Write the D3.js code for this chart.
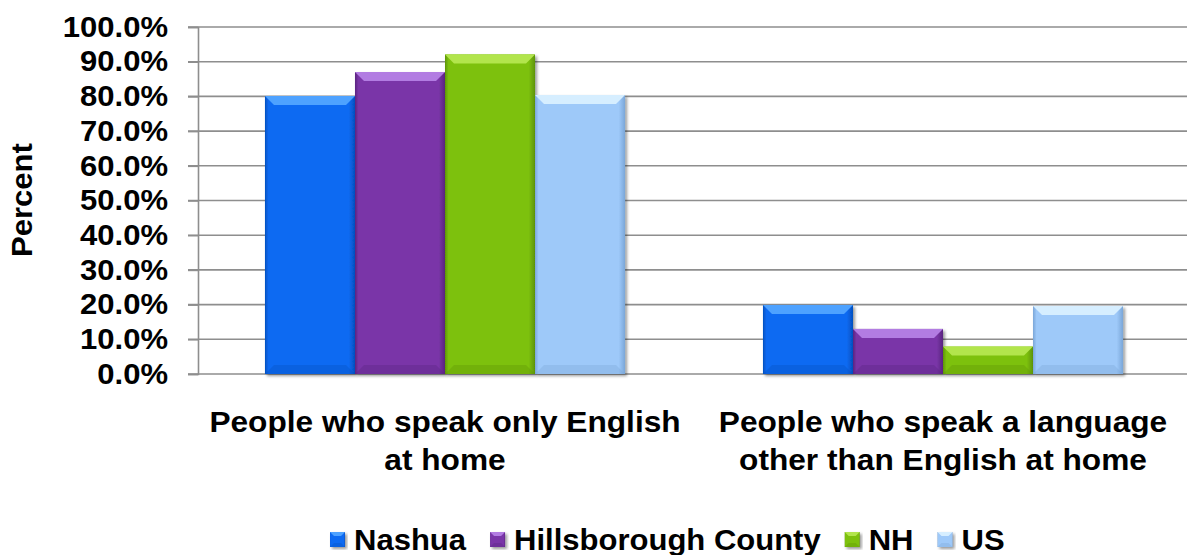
<!DOCTYPE html>
<html>
<head>
<meta charset="utf-8">
<script src="https://cdn.jsdelivr.net/npm/d3@7"></script>
<style>
  body { margin: 0; background: #fff; }
  svg { display: block; font-family: "Liberation Sans", Arial, sans-serif; font-weight: bold; }
</style>
</head>
<body>
<svg id="chart" width="1187" height="555"></svg>
<script>
// data
const categories = [
  ["People who speak only English", "at home"],
  ["People who speak a language", "other than English at home"]
];
const series = ["Nashua", "Hillsborough County", "NH", "US"];
const nashua = [0.801, 0.199];
const hillsborough = [0.870, 0.130];
const nh = [0.921, 0.079];
const us = [0.804, 0.196];
const yTicks = [0, 0.1, 0.2, 0.3, 0.4, 0.5, 0.6, 0.7, 0.8, 0.9, 1.0];

const values = [nashua, hillsborough, nh, us];
const colors = [
  { base: "#0a6af2", light: "#4ea2ff", dark: "#0550c0" },
  { base: "#7a36a8", light: "#b27ce2", dark: "#5a2480" },
  { base: "#7dc10b", light: "#b2e54c", dark: "#5e9406" },
  { base: "#9ec9f9", light: "#d6eeff", dark: "#7aa6d8" }
];

const svg = d3.select('#chart');
const axisX = 198;
const stretch = 1.07; // text in the picture is a bit wider than Liberation Sans

const x0 = d3.scaleBand()
  .domain(d3.range(categories.length))
  .range([196, 1192])
  .paddingInner(0.277)
  .paddingOuter(0.1385);

const x1 = d3.scaleBand()
  .domain(d3.range(series.length))
  .range([0, x0.bandwidth()]);

const y = d3.scaleLinear().domain([0, 1]).range([374, 27]);

const defs = svg.append('defs');
const shadow = defs.append('filter').attr('id', 'shadow')
  .attr('x', '-10%').attr('y', '-10%').attr('width', '130%').attr('height', '130%');
shadow.append('feDropShadow')
  .attr('dx', 2).attr('dy', 2).attr('stdDeviation', 1.5)
  .attr('flood-color', '#000').attr('flood-opacity', 0.4);

colors.forEach((c, i) => {
  const g = defs.append('linearGradient').attr('id', `side${i}`)
    .attr('x1', 0).attr('x2', 1).attr('y1', 0).attr('y2', 0);
  g.append('stop').attr('offset', '0%').attr('stop-color', c.dark);
  g.append('stop').attr('offset', '4%').attr('stop-color', c.base);
  g.append('stop').attr('offset', '93%').attr('stop-color', c.base);
  g.append('stop').attr('offset', '100%').attr('stop-color', c.dark);
});

// gridlines
svg.append('g')
  .selectAll('line')
  .data(yTicks).enter()
  .append('line')
  .attr('x1', axisX - 10).attr('x2', 1187)
  .attr('y1', d => y(d)).attr('y2', d => y(d))
  .attr('stroke', '#8e8e8e').attr('stroke-width', 1.6);

// y axis
const yAxis = svg.append('g')
  .attr('transform', `translate(${axisX},0)`)
  .call(d3.axisLeft(y).tickValues(yTicks).tickFormat(d3.format('.1%')).tickSize(10).tickPadding(18));

yAxis.select('.domain').attr('stroke', '#8e8e8e').attr('stroke-width', 1.6);
yAxis.selectAll('.tick line').attr('stroke', '#8e8e8e').attr('stroke-width', 1.6);
yAxis.selectAll('.tick text')
  .attr('fill', '#000')
  .attr('transform', `scale(${stretch},1)`)
  .style('font-size', '29px')
  .style('font-family', '"Liberation Sans", Arial, sans-serif')
  .style('font-weight', 'bold');

// y title
svg.append('text')
  .attr('transform', `translate(32,200) rotate(-90) scale(${stretch},1)`)
  .attr('text-anchor', 'middle')
  .style('font-size', '29px')
  .text('Percent');

// bars
function bevel(sel, w, h, c, b) {
  b = Math.min(b, h / 2, w / 2);
  sel.append('rect')
    .attr('width', w).attr('height', h)
    .attr('fill', `url(#side${c})`)
    .attr('filter', 'url(#shadow)');
  sel.append('path')
    .attr('d', `M0,0H${w}L${w - b},${b}H${b}Z`)
    .attr('fill', colors[c].light);
  sel.append('path')
    .attr('d', `M0,${h}H${w}L${w - b},${h - b}H${b}Z`)
    .attr('fill', colors[c].dark).attr('opacity', 0.35);
}

const groups = svg.append('g')
  .selectAll('g')
  .data(categories).enter()
  .append('g')
  .attr('transform', (d, i) => `translate(${x0(i)},0)`);

groups.each(function(d, ci) {
  const g = d3.select(this);
  series.forEach((s, si) => {
    const v = values[si][ci];
    const bg = g.append('g')
      .attr('transform', `translate(${x1(si)},${y(v)})`);
    bevel(bg, x1.bandwidth(), y(0) - y(v), si, 9);
  });
});

// category labels
const labels = svg.append('g')
  .selectAll('text')
  .data(categories).enter()
  .append('text')
  .attr('text-anchor', 'middle')
  .attr('transform', (d, i) => `translate(${x0(i) + x0.bandwidth() / 2},432) scale(1.055,1)`)
  .style('font-size', '30px');

labels.selectAll('tspan')
  .data(d => d).enter()
  .append('tspan')
  .attr('x', 0)
  .attr('dy', (d, i) => i ? 38 : 0)
  .text(d => d);

// legend
const legend = svg.append('g').attr('transform', 'translate(330,550)');
let lx = 0;
series.forEach((s, i) => {
  const item = legend.append('g').attr('transform', `translate(${lx},0)`);
  const sq = item.append('g').attr('transform', 'translate(0,-18)');
  bevel(sq, 15, 15, i, 4);
  const t = item.append('text')
    .attr('transform', `translate(24,0) scale(${stretch},1)`)
    .style('font-size', '29px')
    .text(s);
  lx += 24 + t.node().getComputedTextLength() * stretch + 24;
});
</script>
</body>
</html>
